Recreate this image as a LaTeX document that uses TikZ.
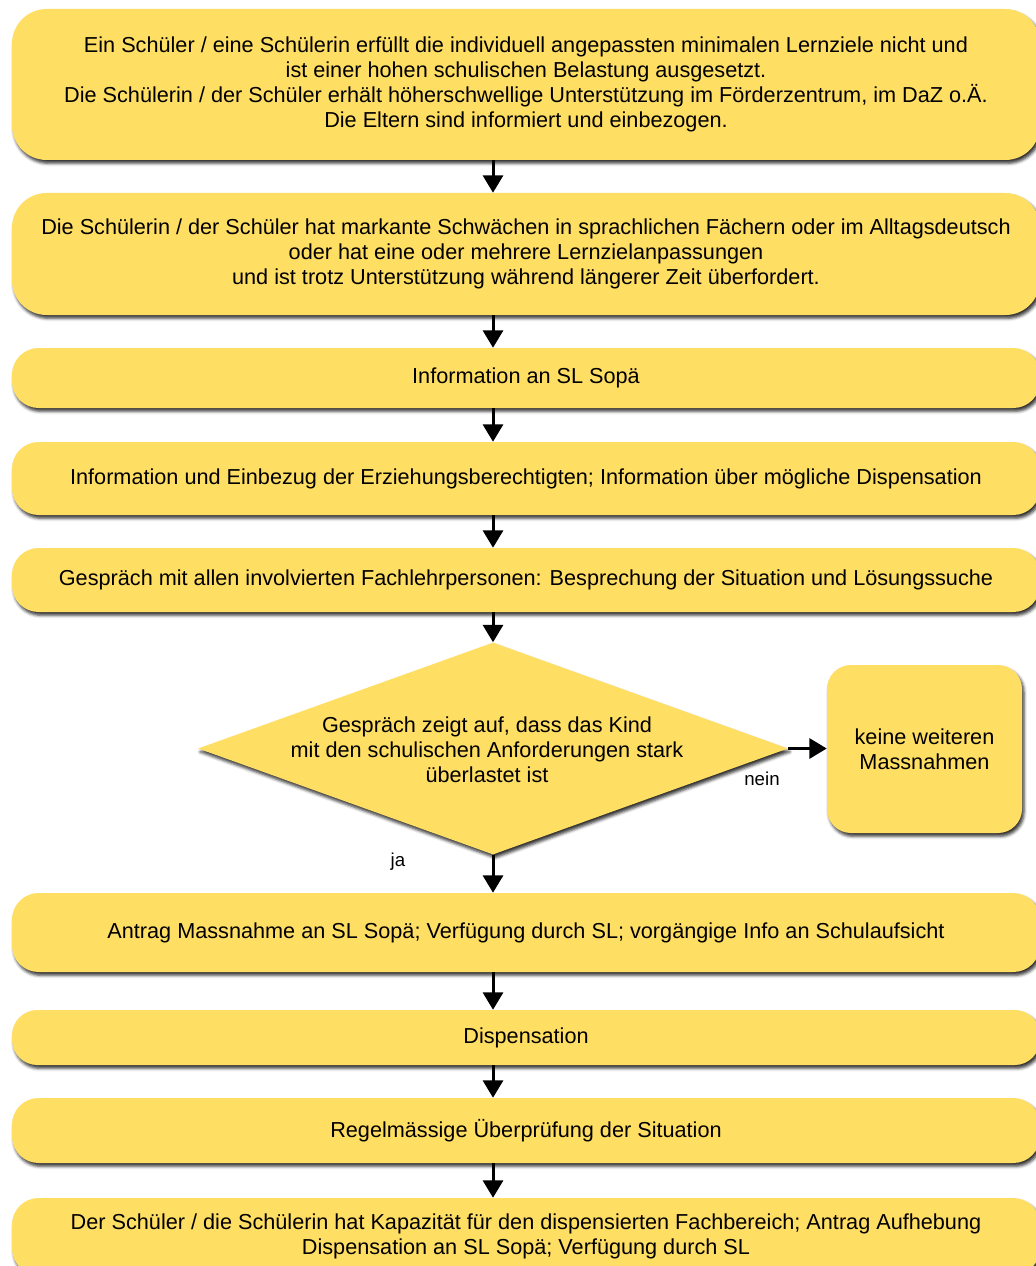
\documentclass[tikz,border=0pt]{standalone}
\usepackage{fontspec}
\setmainfont{Liberation Sans}
\usetikzlibrary{arrows.meta,shapes.geometric,shadows.blur}
\definecolor{boxyellow}{HTML}{FFDE64}

\begin{document}
\begin{tikzpicture}[x=0.75pt,y=-0.75pt,
  every node/.style={font=\fontsize{16.25}{18.9}\selectfont, text=black},
  softshadow/.style={blur shadow={shadow xshift=1.5pt, shadow yshift=-2.5pt,
      shadow blur radius=2.2pt, shadow opacity=80}},
  card/.style={fill=boxyellow, draw=none, align=center, inner sep=0pt,
      minimum width=771pt, rounded corners=20pt, softshadow},
  bigcard/.style={card, rounded corners=26pt},
  sidecard/.style={fill=boxyellow, draw=none, align=center, inner sep=0pt,
      minimum width=146.25pt, minimum height=126pt, rounded corners=18pt, softshadow},
  decision/.style={diamond, fill=boxyellow, draw=none, inner sep=0pt,
      minimum width=442.5pt, minimum height=159pt, softshadow},
  lbl/.style={font=\fontsize{14}{16}\selectfont},
  flow/.style={line width=2.25pt, -{Triangle[width=15pt,length=13pt]}}
]
\useasboundingbox (0,0) rectangle (1035,1266);

% main column of steps
\node[bigcard, minimum height=113.25pt] (b1) at (526,84.5)
  {Ein Schüler / eine Schülerin erfüllt die individuell angepassten minimalen Lernziele nicht und\\
   ist einer hohen schulischen Belastung ausgesetzt.\\
   Die Schülerin / der Schüler erhält höherschwellige Unterstützung im Förderzentrum, im DaZ o.Ä.\\
   Die Eltern sind informiert und einbezogen.};
\node[bigcard, minimum height=91.5pt] (b2) at (526,254)
  {Die Schülerin / der Schüler hat markante Schwächen in sprachlichen Fächern oder im Alltagsdeutsch\\
   oder hat eine oder mehrere Lernzielanpassungen\\
   und ist trotz Unterstützung während längerer Zeit überfordert.};
\node[card, minimum height=45pt] (b3) at (526,378) {Information an SL Sopä};
\node[card, minimum height=54.75pt] (b4) at (526,478.5)
  {Information und Einbezug der Erziehungsberechtigten; Information über mögliche Dispensation};
\node[card, minimum height=48pt] (b5) at (526,580)
  {Gespräch mit allen involvierten Fachlehrpersonen: Besprechung der Situation und Lösungssuche};

% decision
\node[decision] (d) at (493,748.5) {};
\node[align=center, inner sep=0pt] (dq) at (487,750)
  {Gespräch zeigt auf, dass das Kind\\
   mit den schulischen Anforderungen stark\\
   überlastet ist};
\node[sidecard] (nomore) at (924.5,749) {keine weiteren\\Massnahmen};

\node[card, minimum height=59.25pt] (b7) at (526,932.5)
  {Antrag Massnahme an SL Sopä; Verfügung durch SL; vorgängige Info an Schulaufsicht};
\node[card, minimum height=41.25pt, rounded corners=19pt] (b8) at (526,1037.5) {Dispensation};
\node[card, minimum height=48.75pt] (b9) at (526,1130.5) {Regelmässige Überprüfung der Situation};
\node[card, minimum height=57.75pt] (b10) at (526,1236.5)
  {Der Schüler / die Schülerin hat Kapazität für den dispensierten Fachbereich; Antrag Aufhebung\\
   Dispensation an SL Sopä; Verfügung durch SL};

% branch labels
\node[lbl] (ja) at (398,862) {ja};
\node[lbl] (nein) at (762,779) {nein};

% connectors
\coordinate (ax) at (493,0);
\draw[flow] (b1.south -| ax) -- (b2.north -| ax);
\draw[flow] (b2.south -| ax) -- (b3.north -| ax);
\draw[flow] (b3.south -| ax) -- (b4.north -| ax);
\draw[flow] (b4.south -| ax) -- (b5.north -| ax);
\draw[flow] (b5.south -| ax) -- (d.north);
\draw[flow] (d.east) -- (nomore.west |- d.east);
\draw[flow] (d.south) -- (b7.north -| ax);
\draw[flow] (b7.south -| ax) -- (b8.north -| ax);
\draw[flow] (b8.south -| ax) -- (b9.north -| ax);
\draw[flow] (b9.south -| ax) -- (b10.north -| ax);
\end{tikzpicture}
\end{document}
